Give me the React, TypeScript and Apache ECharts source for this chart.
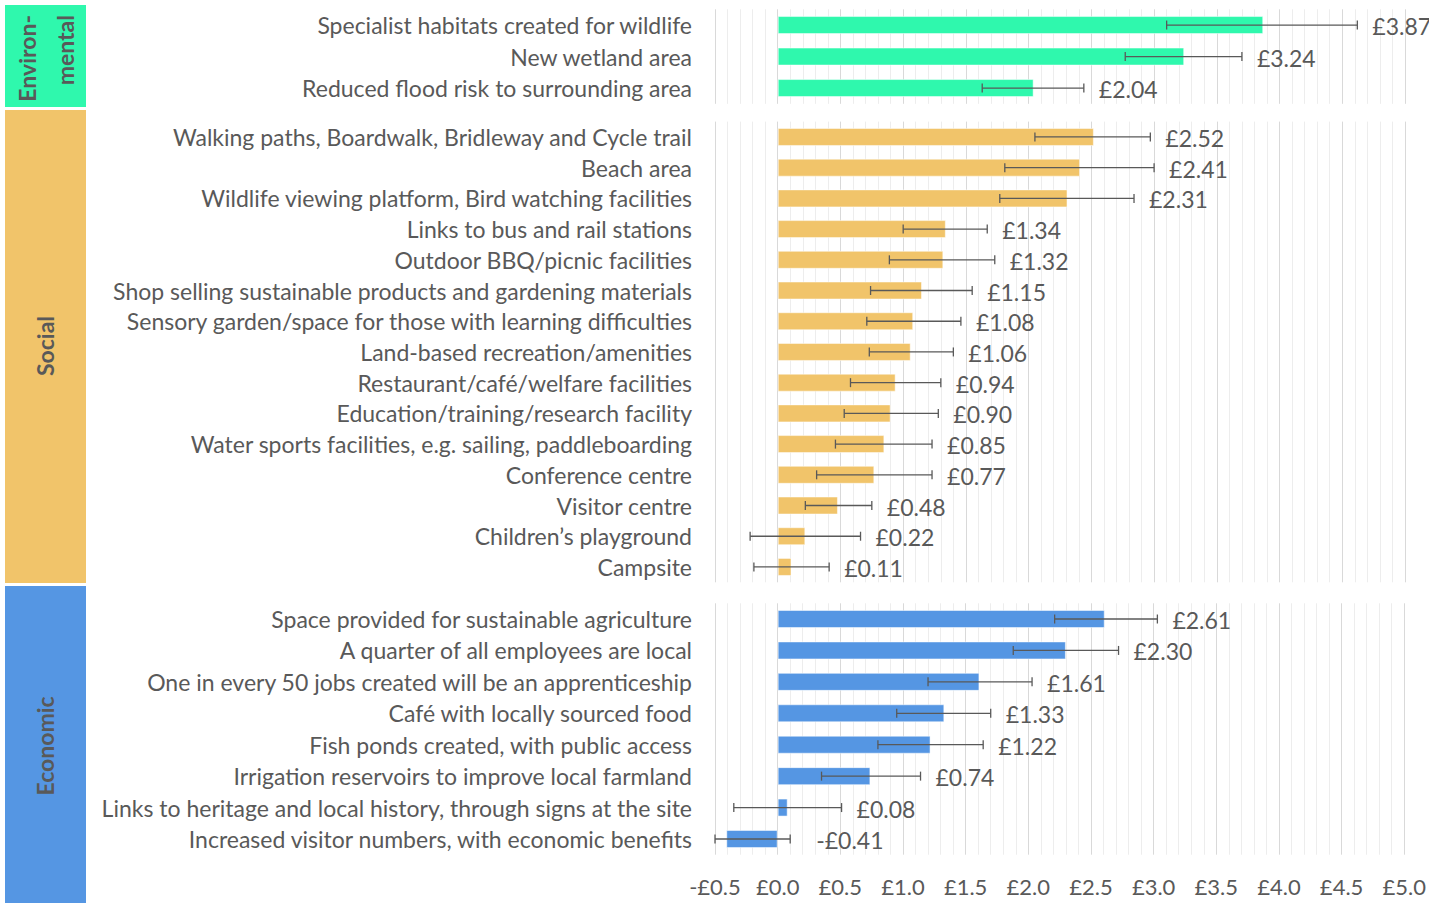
import React, { useEffect, useRef } from "react";
import * as echarts from "echarts";

const envCats = [
  "Specialist habitats created for wildlife",
  "New wetland area",
  "Reduced flood risk to surrounding area",
];
const envValues = [3.87, 3.24, 2.04];
const envLow = [3.1, 2.77, 1.63];
const envHigh = [4.62, 3.7, 2.44];

const socCats = [
  "Walking paths, Boardwalk, Bridleway and Cycle trail",
  "Beach area",
  "Wildlife viewing platform, Bird watching facilities",
  "Links to bus and rail stations",
  "Outdoor BBQ/picnic facilities",
  "Shop selling sustainable products and gardening materials",
  "Sensory garden/space for those with learning difficulties",
  "Land-based recreation/amenities",
  "Restaurant/café/welfare facilities",
  "Education/training/research facility",
  "Water sports facilities, e.g. sailing, paddleboarding",
  "Conference centre",
  "Visitor centre",
  "Children’s playground",
  "Campsite",
];
const socValues = [2.52, 2.41, 2.31, 1.34, 1.32, 1.15, 1.08, 1.06, 0.94, 0.9, 0.85, 0.77, 0.48, 0.22, 0.11];
const socLow = [2.05, 1.81, 1.77, 1.0, 0.89, 0.74, 0.71, 0.73, 0.58, 0.53, 0.46, 0.31, 0.22, -0.22, -0.19];
const socHigh = [2.97, 3.0, 2.84, 1.67, 1.73, 1.55, 1.46, 1.4, 1.3, 1.28, 1.23, 1.23, 0.75, 0.66, 0.41];

const ecoCats = [
  "Space provided for sustainable agriculture",
  "A quarter of all employees are local",
  "One in every 50 jobs created will be an apprenticeship",
  "Café with locally sourced food",
  "Fish ponds created, with public access",
  "Irrigation reservoirs to improve local farmland",
  "Links to heritage and local history, through signs at the site",
  "Increased visitor numbers, with economic benefits",
];
const ecoValues = [2.61, 2.3, 1.61, 1.33, 1.22, 0.74, 0.08, -0.41];
const ecoLow = [2.21, 1.88, 1.2, 0.95, 0.8, 0.35, -0.35, -0.5];
const ecoHigh = [3.03, 2.72, 2.03, 1.7, 1.64, 1.14, 0.51, 0.1];

const groupNames = ["Environ-\nmental", "Social", "Economic"];
const groupColors = ["#2ff8ad", "#f1c46a", "#5596e3"];

const TEXT = "#595959";
const FONT = "Lato";

const fmt = (v: number, d: number) => (v < 0 ? "-£" : "£") + Math.abs(v).toFixed(d);

export default function App() {
  const ref = useRef<HTMLDivElement>(null);
  useEffect(() => {
    if (!ref.current) return;
    const chart = echarts.init(ref.current, undefined, { renderer: "svg" });

    const grids = [
      { left: 715, width: 690, top: 9.3, height: 94.5 },
      { left: 715, width: 690, top: 121.6, height: 460.7 },
      { left: 715, width: 690, top: 603.3, height: 251.4 },
    ];
    const cats = [envCats, socCats, ecoCats];
    const vals = [envValues, socValues, ecoValues];
    const lows = [envLow, socLow, ecoLow];
    const highs = [envHigh, socHigh, ecoHigh];

    const xAxis = grids.map((_, i) => ({
      type: "value",
      gridIndex: i,
      min: -0.5,
      max: 5,
      interval: 0.5,
      axisLine: { show: false },
      axisTick: { show: false },
      minorTick: { show: false, splitNumber: 5 },
      minorSplitLine: { show: true, lineStyle: { color: "#ededed", width: 1 } },
      splitLine: { show: true, lineStyle: { color: "#d9d9d9", width: 1 } },
      axisLabel: {
        show: i === 2,
        formatter: (v: number) => fmt(v, 1),
        fontSize: 22,
        fontFamily: FONT,
        color: TEXT,
        margin: 21,
      },
    }));

    const yAxis = grids.map((_, i) => ({
      type: "category",
      gridIndex: i,
      inverse: true,
      data: cats[i],
      axisLine: { show: false },
      axisTick: { show: false },
      splitLine: { show: false },
      axisLabel: { fontSize: 23, fontFamily: FONT, color: TEXT, margin: 23 },
    }));

    const series: any[] = [];
    grids.forEach((_, i) => {
      series.push({
        type: "bar",
        xAxisIndex: i,
        yAxisIndex: i,
        data: vals[i],
        barWidth: 18,
        itemStyle: { color: groupColors[i], borderColor: "rgba(255,255,255,0.5)", borderWidth: 1 },
        z: 2,
      });
      series.push({
        type: "custom",
        xAxisIndex: i,
        yAxisIndex: i,
        z: 3,
        data: vals[i].map((v, k) => [k, lows[i][k], highs[i][k], v]),
        encode: { x: [1, 2], y: 0 },
        renderItem: (params: any, api: any) => {
          const cat = api.value(0);
          const lo = api.value(1);
          const hi = api.value(2);
          const v = api.value(3);
          const p1 = api.coord([lo, cat]);
          const p2 = api.coord([hi, cat]);
          const h = 4.5;
          const st = { stroke: TEXT, lineWidth: 1.3 };
          return {
            type: "group",
            children: [
              { type: "line", shape: { x1: p1[0], y1: p1[1], x2: p2[0], y2: p2[1] }, style: st },
              { type: "line", shape: { x1: p1[0], y1: p1[1] - h, x2: p1[0], y2: p1[1] + h }, style: st },
              { type: "line", shape: { x1: p2[0], y1: p2[1] - h, x2: p2[0], y2: p2[1] + h }, style: st },
              {
                type: "text",
                x: p2[0] + (v < 0 ? 26 : 15),
                y: p2[1] + 1,
                style: {
                  text: fmt(v, 2),
                  fill: TEXT,
                  fontSize: 23,
                  fontFamily: FONT,
                  align: "left",
                  verticalAlign: "middle",
                },
              },
            ],
          };
        },
      });
    });

    const bandFont = { fontSize: 23, fontWeight: "bold", fontFamily: FONT, fill: TEXT };
    const graphic: any[] = [
      { type: "rect", shape: { x: 5, y: 5, width: 81, height: 102 }, style: { fill: groupColors[0] } },
      { type: "rect", shape: { x: 5, y: 110, width: 81, height: 473 }, style: { fill: groupColors[1] } },
      { type: "rect", shape: { x: 5, y: 586, width: 81, height: 317 }, style: { fill: groupColors[2] } },
      {
        type: "text",
        x: 27,
        y: 15,
        rotation: Math.PI / 2,
        style: { ...bandFont, text: groupNames[0].split("\n")[0], align: "right", verticalAlign: "middle" },
      },
      {
        type: "text",
        x: 65,
        y: 15,
        rotation: Math.PI / 2,
        style: { ...bandFont, text: groupNames[0].split("\n")[1], align: "right", verticalAlign: "middle" },
      },
      {
        type: "text",
        x: 45,
        y: 346,
        rotation: Math.PI / 2,
        style: { ...bandFont, text: groupNames[1], align: "center", verticalAlign: "middle" },
      },
      {
        type: "text",
        x: 45,
        y: 746,
        rotation: Math.PI / 2,
        style: { ...bandFont, text: groupNames[2], align: "center", verticalAlign: "middle" },
      },
    ];

    chart.setOption({
      animation: false,
      backgroundColor: "#ffffff",
      grid: grids,
      xAxis,
      yAxis,
      series,
      graphic,
    });
    return () => chart.dispose();
  }, []);

  return (
    <div
      ref={ref}
      style={{ position: "fixed", left: 0, top: 0, width: 1429, height: 903 }}
    />
  );
}
